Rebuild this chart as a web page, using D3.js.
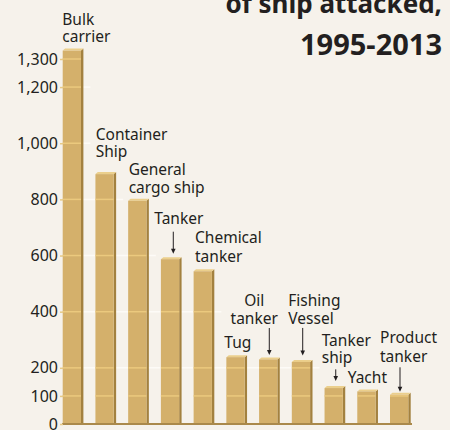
<!doctype html>
<html>
<head>
<meta charset="utf-8">
<script src="https://cdnjs.cloudflare.com/ajax/libs/d3/7.8.5/d3.min.js"></script>
<style>
  html, body { margin: 0; padding: 0; background: #f6f2eb; }
  svg { display: block; font-family: "Noto Sans", "Open Sans", sans-serif; }
</style>
</head>
<body>
<svg width="450" height="430"></svg>
<script>
// data
var categories = ["Bulk carrier", "Container Ship", "General cargo ship", "Tanker", "Chemical tanker",
                  "Tug", "Oil tanker", "Fishing Vessel", "Tanker ship", "Yacht", "Product tanker"];
var values = [1330, 890, 795, 587, 544, 238, 230, 221, 128, 116, 104];
var labelLines = [["Bulk", "carrier"], ["Container", "Ship"], ["General", "cargo ship"], ["Tanker"],
                  ["Chemical", "tanker"], ["Tug"], ["Oil", "tanker"], ["Fishing", "Vessel"],
                  ["Tanker", "ship"], ["Yacht"], ["Product", "tanker"]];
var tickValues = [0, 100, 200, 400, 600, 800, 1000, 1200, 1300];
var gridValues = [200, 400, 600, 800, 1000, 1200];
var titleLines = ["of ship attacked,", "1995-2013"];

// label placement relative to each bar (dx from bar left, dy from bar top)
var labelLayout = [
  { dx: -0.4, dy: -25.5, lh: 16.7 },
  { dx: 0.3,  dy: -34,   lh: 16.7 },
  { dx: 0.5,  dy: -25.8, lh: 17.7 },
  { dx: -6.6, dy: -35.2, lh: 17,   arrow: [12.4, -27.5, -5.5] },
  { dx: 1.4,  dy: -28,   lh: 18.4 },
  { dx: -2,   dy: -9,    lh: 17 },
  { dx: -4.9, dy: -53.7, lh: 18.6, anchor: "middle", arrow: [10.2, -31.4, -4.4] },
  { dx: -3.5, dy: -56.2, lh: 18.6, arrow: [10.9, -34, -6.5] },
  { dx: -2.8, dy: -42,   lh: 17,   arrow: [11.2, -18.7, -7] },
  { dx: -9.6, dy: -8.1,  lh: 17 },
  { dx: -10,  dy: -51.5, lh: 18.4, arrow: [10, -27.5, -3] }
];

var svg = d3.select("svg");
var ink = "#231f20";

var y = d3.scaleLinear().domain([0, 1300]).range([424, 59]);
var x = d3.scaleBand().domain(categories).range([62.7, 408.3]).paddingInner(0.441).paddingOuter(0);
var bw = x.bandwidth();
var side = 2.4, rise = 2;

var data = categories.map(function (c, i) { return { cat: c, value: values[i], lines: labelLines[i], lay: labelLayout[i] }; });

// white gridlines running out to the last bar taller than the value
svg.append("g").selectAll("line")
  .data(gridValues)
  .enter().append("line")
  .attr("x1", 62)
  .attr("x2", function (g) {
    var last = 0;
    values.forEach(function (v, i) { if (v > g) last = i; });
    return x(categories[last]) + bw + side + 7;
  })
  .attr("y1", function (g) { return y(g); })
  .attr("y2", function (g) { return y(g); })
  .attr("stroke", "#fdfbf7")
  .attr("stroke-width", 1.5);

// bars with a little 3d side and top
var bars = svg.append("g").selectAll("g")
  .data(data)
  .enter().append("g");

bars.append("polygon")
  .attr("points", function (d) {
    var x0 = x(d.cat) + bw, t = y(d.value), b = y(0);
    return [[x0, t], [x0 + side, t - rise], [x0 + side, b], [x0, b]].join(" ");
  })
  .attr("fill", "#a3813f");

bars.append("polygon")
  .attr("points", function (d) {
    var x0 = x(d.cat), t = y(d.value);
    return [[x0, t], [x0 + side, t - rise], [x0 + bw + side, t - rise], [x0 + bw, t]].join(" ");
  })
  .attr("fill", "#ebcf8c");

bars.append("rect")
  .attr("x", function (d) { return x(d.cat); })
  .attr("y", function (d) { return y(d.value); })
  .attr("width", bw)
  .attr("height", function (d) { return y(0) - y(d.value); })
  .attr("fill", "#d4b06b");

// light lines across the bar faces at each tick
bars.each(function (d) {
  d3.select(this).selectAll("line.face")
    .data(tickValues.filter(function (t) { return t > 0 && t < d.value; }))
    .enter().append("line")
    .attr("class", "face")
    .attr("x1", x(d.cat))
    .attr("x2", x(d.cat) + bw)
    .attr("y1", function (t) { return y(t); })
    .attr("y2", function (t) { return y(t); })
    .attr("stroke", "#ebc97e")
    .attr("stroke-width", 1.5);
});

// baseline
svg.append("line")
  .attr("x1", 62).attr("x2", 412)
  .attr("y1", y(0)).attr("y2", y(0))
  .attr("stroke", "#aa894b")
  .attr("stroke-width", 2);

// y axis
var yAxis = svg.append("g")
  .attr("transform", "translate(63,0)")
  .call(d3.axisLeft(y).tickValues(tickValues).tickSize(3).tickPadding(2).tickFormat(d3.format(",")));
yAxis.select(".domain").remove();
yAxis.selectAll(".tick line").attr("stroke", "#e6c987").attr("stroke-width", 1.5);
yAxis.selectAll(".tick text")
  .attr("fill", ink)
  .style("font-size", "16px")
  .style("font-family", "'Noto Sans', sans-serif");

// category labels
bars.each(function (d) {
  var lay = d.lay, bx = x(d.cat), top = y(d.value);
  var t = d3.select(this).append("text")
    .attr("fill", ink)
    .style("font-size", "15.5px")
    .attr("text-anchor", lay.anchor || "start");
  d.lines.forEach(function (s, k) {
    t.append("tspan")
      .attr("x", bx + lay.dx)
      .attr("y", top + lay.dy + k * lay.lh)
      .text(s);
  });
  if (lay.arrow) {
    var ax = bx + lay.arrow[0], y1 = top + lay.arrow[1], y2 = top + lay.arrow[2];
    d3.select(this).append("line")
      .attr("x1", ax).attr("x2", ax)
      .attr("y1", y1).attr("y2", y2 - 4)
      .attr("stroke", ink).attr("stroke-width", 1);
    d3.select(this).append("path")
      .attr("d", "M" + (ax - 2.3) + "," + (y2 - 5) + "L" + (ax + 2.3) + "," + (y2 - 5) + "L" + ax + "," + y2 + "Z")
      .attr("fill", ink);
  }
});

// title, top lines cut off by the frame
var title = svg.append("text")
  .attr("text-anchor", "end")
  .attr("fill", ink)
  .style("font-weight", "bold");
title.append("tspan").attr("x", 442).attr("y", 13.3).style("font-size", "26px").text(titleLines[0]);
title.append("tspan").attr("x", 442).attr("y", 55).style("font-size", "29px").text(titleLines[1]);
</script>
</body>
</html>
